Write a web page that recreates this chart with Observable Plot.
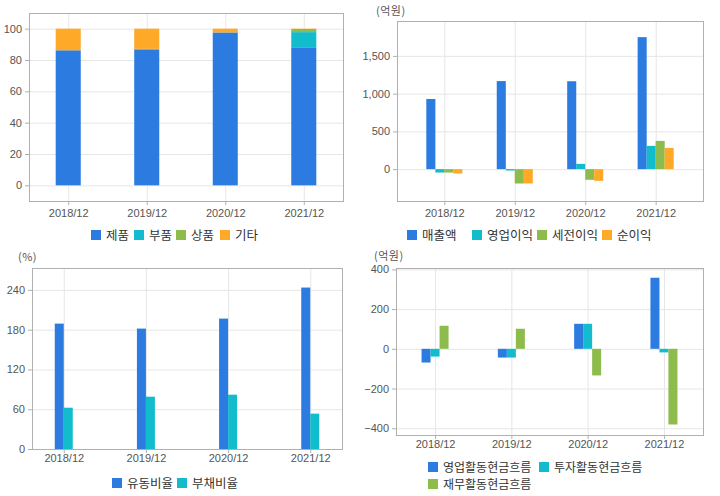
<!DOCTYPE html>
<html><head><meta charset="utf-8">
<script src="https://cdn.jsdelivr.net/npm/d3@7"></script>
<script src="https://cdn.jsdelivr.net/npm/@observablehq/plot@0.6"></script>
<style>
html,body{margin:0;padding:0;background:#fff}
body{width:720px;height:496px;overflow:hidden;position:relative;font-family:"Noto Sans CJK KR","Noto Sans",sans-serif}
.panel{position:absolute}
.unit{position:absolute;font-size:11px;line-height:12px;height:12px;color:#555;font-family:"Noto Sans CJK KR",sans-serif;letter-spacing:0.5px}
.lg{position:absolute;display:flex;align-items:center;height:12px;line-height:12px;font-size:12.5px;color:#333;white-space:nowrap;font-family:"Noto Sans CJK KR",sans-serif}
.lg.small{font-size:12px}
.lg i{display:inline-block;width:10px;height:10px;margin-right:5px}
</style></head><body>
<script>
// ---------- data ----------
const years = ["2018/12", "2019/12", "2020/12", "2021/12"];

// panel 1: 매출 구성 (%)
const mixSeries = ["제품", "부품", "상품", "기타"];
const mixProduct = [86.2, 86.6, 97.6, 88.1];
const mixParts   = [0, 0.5, 0, 9.7];
const mixGoods   = [0, 0, 0, 2.0];
const mixOther   = [13.8, 12.9, 2.4, 0.2];

// panel 2: 손익 (억원)
const plSeries = ["매출액", "영업이익", "세전이익", "순이익"];
const sales     = [929, 1166, 1164, 1748];
const opProfit  = [-45, -18, 70, 308];
const preTax    = [-45, -190, -141, 374];
const netProfit = [-58, -190, -155, 281];

// panel 3: 비율 (%)
const ratioSeries = ["유동비율", "부채비율"];
const currentRatio = [189.1, 181.6, 196.7, 243.5];
const debtRatio    = [62.3, 78.9, 81.9, 53.3];

// panel 4: 현금흐름 (억원)
const cfSeries = ["영업활동현금흐름", "투자활동현금흐름", "재무활동현금흐름"];
const cfOperating = [-69, -44, 126, 358];
const cfInvesting = [-39, -44, 126, -18];
const cfFinancing = [116, 101, -134, -381];

// tick labels
const ticks1 = [0, 20, 40, 60, 80, 100];
const ticks2 = [0, 500, 1000, 1500];
const ticks3 = [0, 60, 120, 180, 240];
const ticks4 = [-400, -200, 0, 200, 400];

// ---------- styles ----------
const BLUE = "#2b7be0", CYAN = "#12bccd", GREEN = "#8dbb4c", ORANGE = "#ffa928";
const GRID = "#e6e6e6", FRAME = "#b0b0b0", TEXT = "#555";
const tickFont = "'Liberation Sans Narrow','Liberation Sans',Arial,sans-serif";

function panel(o) {
  const svg = Plot.plot({
    width: o.width, height: o.height,
    marginLeft: o.ml, marginRight: o.mr, marginTop: o.mt, marginBottom: o.mb,
    style: {fontFamily: tickFont, fontSize: "11px", color: TEXT, background: "transparent", overflow: "visible"},
    x: {type: "band", domain: years, paddingInner: o.pi, paddingOuter: o.po, round: false, axis: null},
    y: {domain: o.yDomain, axis: null},
    color: o.color,
    marks: [
      Plot.gridX(years, {stroke: GRID, strokeOpacity: 1}),
      Plot.gridY(o.yTicks, {stroke: GRID, strokeOpacity: 1}),
      ...o.marks,
      Plot.frame({stroke: FRAME}),
      Plot.axisX(years, {tickSize: 4, tickPadding: o.xPad, stroke: FRAME, strokeOpacity: 1, fill: TEXT, label: null}),
      Plot.axisY(o.yTicks, {tickSize: 4, tickPadding: 3.5, stroke: FRAME, strokeOpacity: 1, fill: TEXT, label: null, tickFormat: o.fmt})
    ]
  });
  const div = document.createElement("div");
  div.className = "panel";
  div.style.left = o.left + "px";
  div.style.top = o.top + "px";
  div.appendChild(svg);
  document.body.appendChild(div);
}

function grouped(list, colors, slot) {
  return list.map((vals, i) => Plot.barY(years, {
    x: d => d, y1: 0, y2: (d, j) => vals[j], fill: colors[i],
    insetLeft: i * slot, insetRight: (list.length - 1 - i) * slot
  }));
}

function legend(items, colors, spots, cls) {
  items.forEach((name, i) => {
    const el = document.createElement("div");
    el.className = "lg" + (cls ? " " + cls : "");
    el.style.left = spots[i][0] + "px";
    el.style.top = (spots[i][1] - 6) + "px";
    el.innerHTML = `<i style="background:${colors[i]}"></i><span>${name}</span>`;
    document.body.appendChild(el);
  });
}

function unit(text, x, y) {
  const el = document.createElement("div");
  el.className = "unit";
  el.style.left = x + "px";
  el.style.top = (y - 6) + "px";
  el.textContent = text;
  document.body.appendChild(el);
}

// ---------- panel 1 (stacked) ----------
const mixValues = [mixProduct, mixParts, mixGoods, mixOther];
const mixRows = years.flatMap((y, j) => mixSeries.map((s, i) => ({year: y, series: s, value: mixValues[i][j]})));
const mixColors = [BLUE, CYAN, GREEN, ORANGE];
panel({
  left: 0, top: 0, width: 360, height: 230, ml: 29, mr: 17, mt: 13, mb: 29,
  pi: 0.681, po: 0.34, yDomain: [-10, 110], yTicks: ticks1, xPad: 4,
  color: {domain: mixSeries, range: mixColors},
  marks: [Plot.barY(mixRows, {x: "year", y: "value", fill: "series", z: "series"})]
});
legend(mixSeries, mixColors, [[91, 235], [134, 235], [176, 235], [220, 235]]);

// ---------- panel 2 ----------
const plColors = [BLUE, CYAN, GREEN, ORANGE];
panel({
  left: 360, top: 0, width: 360, height: 230, ml: 37, mr: 17, mt: 21, mb: 29,
  pi: 0.488, po: 0.416, yDomain: [-422, 1962], yTicks: ticks2, xPad: 4, fmt: d3.format(","),
  marks: grouped([sales, opProfit, preTax, netProfit], plColors, 9)
});
unit("(억원)", 376, 10);
legend(plSeries, plColors, [[407, 235], [472, 235], [537, 235], [602, 235]]);

// ---------- panel 3 ----------
const ratioColors = [BLUE, CYAN];
panel({
  left: 0, top: 250, width: 360, height: 220, ml: 32, mr: 18, mt: 18, mb: 21,
  pi: 0.781, po: 0.277, yDomain: [0, 273], yTicks: ticks3, xPad: 1,
  marks: grouped([currentRatio, debtRatio], ratioColors, 9)
});
unit("(%)", 18, 256);
legend(ratioSeries, ratioColors, [[112, 483], [177, 483]]);

// ---------- panel 4 ----------
const cfColors = [BLUE, CYAN, GREEN];
panel({
  left: 360, top: 250, width: 360, height: 220, ml: 36, mr: 17, mt: 18, mb: 35,
  pi: 0.646, po: 0.335, yDomain: [-434, 407], yTicks: ticks4, xPad: 1,
  marks: grouped([cfOperating, cfInvesting, cfFinancing], cfColors, 9)
});
unit("(억원)", 374, 255);
legend(cfSeries, cfColors, [[428, 467], [539, 467], [428, 484]], "small");
</script>
</body></html>
